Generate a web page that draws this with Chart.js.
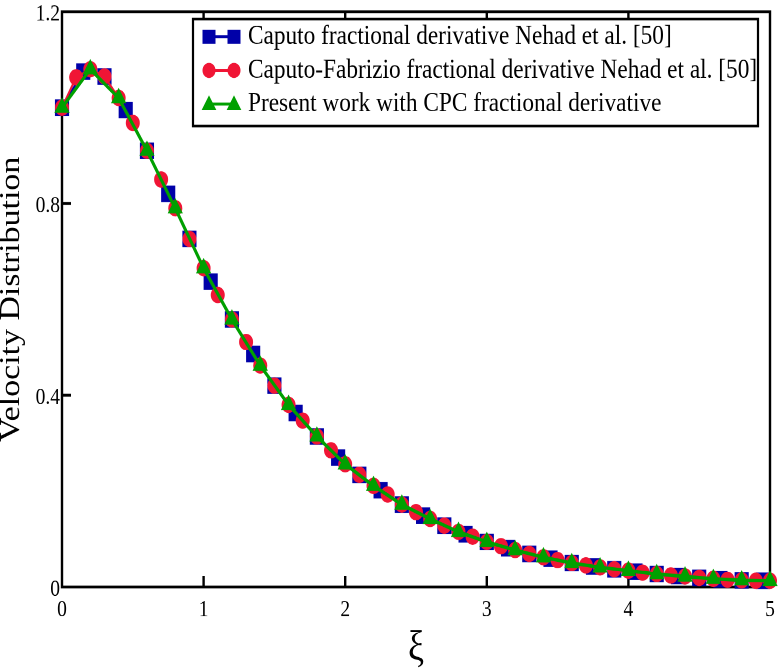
<!DOCTYPE html>
<html>
<head>
<meta charset="utf-8">
<title>Velocity Distribution</title>
<script src="https://cdn.jsdelivr.net/npm/chart.js@4.4.1/dist/chart.umd.min.js"></script>
<style>
  html, body { margin: 0; padding: 0; background: #fff; overflow: hidden; }
  #wrap { width: 780px; height: 670px; }
  /* the original figure is stretched a little vertically */
  #chart { transform-origin: 0 0; transform: scaleY(1.1693); }
</style>
</head>
<body>
<div id="wrap"><canvas id="chart" width="780" height="573"></canvas></div>
<script>
// Caputo (squares)
const xCaputo = [0, 0.15, 0.3, 0.45, 0.6, 0.75, 0.9, 1.05, 1.2, 1.35, 1.5, 1.65, 1.8, 1.95, 2.1, 2.25, 2.4,
    2.55, 2.7, 2.85, 3.0, 3.15, 3.3, 3.45, 3.6, 3.75, 3.9, 4.05, 4.2, 4.35, 4.5, 4.65, 4.8, 4.95];
const yCaputo = [1.000, 1.075, 1.065, 0.995, 0.910, 0.820, 0.726, 0.637, 0.558, 0.486, 0.420, 0.363, 0.314, 0.270,
    0.234, 0.202, 0.172, 0.149, 0.128, 0.110, 0.094, 0.081, 0.069, 0.059, 0.050, 0.043, 0.037, 0.032, 0.027,
    0.023, 0.019, 0.016, 0.014, 0.013];

// Caputo-Fabrizio (circles)
const xFabrizio = [0, 0.1, 0.2, 0.3, 0.4, 0.5, 0.6, 0.7, 0.8, 0.9, 1.0, 1.1, 1.2, 1.3, 1.4, 1.5, 1.6, 1.7, 1.8,
    1.9, 2.0, 2.1, 2.2, 2.3, 2.4, 2.5, 2.6, 2.7, 2.8, 2.9, 3.0, 3.1, 3.2, 3.3, 3.4, 3.5, 3.6, 3.7, 3.8, 3.9,
    4.0, 4.1, 4.2, 4.3, 4.4, 4.5, 4.6, 4.7, 4.8, 4.9, 5.0];
const yFabrizio = [1.000, 1.063, 1.080, 1.065, 1.020, 0.968, 0.910, 0.850, 0.790, 0.726, 0.665, 0.609, 0.558,
    0.511, 0.462, 0.420, 0.380, 0.347, 0.314, 0.285, 0.256, 0.234, 0.211, 0.193, 0.172, 0.156, 0.142, 0.128,
    0.115, 0.105, 0.094, 0.085, 0.077, 0.069, 0.062, 0.056, 0.050, 0.045, 0.041, 0.037, 0.034, 0.030, 0.027,
    0.024, 0.022, 0.019, 0.017, 0.015, 0.014, 0.013, 0.013];

// Present work, CPC (triangles)
const xPresent = [0, 0.2, 0.4, 0.6, 0.8, 1.0, 1.2, 1.4, 1.6, 1.8, 2.0, 2.2, 2.4, 2.6, 2.8, 3.0, 3.2, 3.4, 3.6,
    3.8, 4.0, 4.2, 4.4, 4.6, 4.8, 5.0];
const yPresent = [1.000, 1.080, 1.020, 0.910, 0.790, 0.665, 0.558, 0.462, 0.380, 0.314, 0.256, 0.211, 0.172,
    0.142, 0.115, 0.094, 0.077, 0.062, 0.050, 0.041, 0.034, 0.027, 0.022, 0.017, 0.014, 0.013];

const seriesNames = [
    'Caputo fractional derivative Nehad et al. [50]',
    'Caputo-Fabrizio fractional derivative Nehad et al. [50]',
    'Present work with CPC fractional derivative'
];
const seriesColors = ['#0000a8', '#f01535', '#00a000'];
const seriesShapes = ['rect', 'circle', 'triangle'];

const xTickValues = [0, 1, 2, 3, 4, 5];
const yTickValues = [0, 0.4, 0.8, 1.2];
const yTickLabels = ['0', '0.4', '0.8', '1.2'];

const SERIF = '"Liberation Serif", "Times New Roman", serif';

const toPoints = (xs, ys) => xs.map((x, i) => ({ x: x, y: ys[i] }));

// little helper to draw a marker shape (used for the legend)
const drawMarker = (ctx, shape, x, y, color) => {
    ctx.fillStyle = color;
    ctx.beginPath();
    if (shape === 'rect') {
        ctx.rect(x - 6.5, y - 6, 13, 12);
    } else if (shape === 'circle') {
        ctx.arc(x, y, 6.5, 0, Math.PI * 2);
    } else {
        ctx.moveTo(x, y - 7.5);
        ctx.lineTo(x + 7.3, y + 5);
        ctx.lineTo(x - 7.3, y + 5);
        ctx.closePath();
    }
    ctx.fill();
};

// box around the plot, inward ticks and the y tick labels
const framePlugin = {
    id: 'frame',
    beforeDatasetsDraw(chart) {
        const { ctx, chartArea: a, scales } = chart;
        ctx.save();
        ctx.strokeStyle = '#000';
        ctx.lineWidth = 2.4;
        ctx.strokeRect(a.left, a.top, a.right - a.left, a.bottom - a.top);

        ctx.beginPath();
        xTickValues.forEach(v => {
            if (v <= 0 || v >= 5) return;
            const px = scales.x.getPixelForValue(v);
            ctx.moveTo(px, a.bottom);
            ctx.lineTo(px, a.bottom - 9.5);
            ctx.moveTo(px, a.top);
            ctx.lineTo(px, a.top + 9.5);
        });
        yTickValues.forEach(v => {
            if (v <= 0 || v >= 1.2) return;
            const py = scales.y.getPixelForValue(v);
            ctx.moveTo(a.left, py);
            ctx.lineTo(a.left + 9, py);
        });
        ctx.stroke();

        ctx.fillStyle = '#000';
        ctx.font = '19.5px ' + SERIF;
        ctx.textAlign = 'right';
        ctx.textBaseline = 'middle';
        yTickValues.forEach((v, i) => {
            const py = scales.y.getPixelForValue(v);
            ctx.fillText(yTickLabels[i], a.left - 2, Math.max(py + 2.5, 8.5));
        });
        ctx.restore();
    }
};

// legend box in the top right
const legendPlugin = {
    id: 'boxLegend',
    afterDraw(chart) {
        const ctx = chart.ctx;
        const box = { left: 193, top: 16.3, right: 758, bottom: 107.8 };
        const rows = [31.4, 60.2, 89.0];
        ctx.save();
        ctx.fillStyle = '#fff';
        ctx.fillRect(box.left, box.top, box.right - box.left, box.bottom - box.top);
        ctx.strokeStyle = '#000';
        ctx.lineWidth = 2.2;
        ctx.strokeRect(box.left, box.top, box.right - box.left, box.bottom - box.top);

        seriesNames.forEach((name, i) => {
            const y = rows[i];
            ctx.strokeStyle = seriesColors[i];
            ctx.lineWidth = 2.5;
            ctx.beginPath();
            ctx.moveTo(209, y);
            ctx.lineTo(234, y);
            ctx.stroke();
            drawMarker(ctx, seriesShapes[i], 209, y, seriesColors[i]);
            drawMarker(ctx, seriesShapes[i], 234, y, seriesColors[i]);

            ctx.fillStyle = '#000';
            ctx.font = '23.3px ' + SERIF;
            ctx.textAlign = 'left';
            ctx.textBaseline = 'middle';
            ctx.fillText(name, 248, y);
        });
        ctx.restore();
    }
};

const makeDataset = (i, points, radius, order) => ({
    label: seriesNames[i],
    data: points,
    showLine: true,
    borderColor: seriesColors[i],
    backgroundColor: seriesColors[i],
    borderWidth: i === 2 ? 3 : 2,
    pointStyle: seriesShapes[i],
    pointRadius: radius,
    pointBorderWidth: 0,
    pointBackgroundColor: seriesColors[i],
    tension: 0,
    clip: false,
    order: order
});

const ctx = document.getElementById('chart').getContext('2d');

new Chart(ctx, {
    type: 'scatter',
    data: {
        datasets: [
            makeDataset(0, toPoints(xCaputo, yCaputo), 10, 3),
            makeDataset(1, toPoints(xFabrizio, yFabrizio), 7, 2),
            makeDataset(2, toPoints(xPresent, yPresent), 8.8, 1)
        ]
    },
    options: {
        responsive: false,
        devicePixelRatio: 2,
        animation: false,
        events: [],
        layout: { padding: { top: 2.6, right: 8, left: 0, bottom: 0 } },
        plugins: {
            legend: { display: false },
            tooltip: { enabled: false }
        },
        scales: {
            x: {
                type: 'linear',
                min: 0,
                max: 5,
                afterBuildTicks: s => { s.ticks = xTickValues.map(v => ({ value: v })); },
                ticks: {
                    color: '#000',
                    font: { family: SERIF, size: 19.5 },
                    padding: 8,
                    maxRotation: 0
                },
                grid: { display: false, drawTicks: false },
                border: { display: false },
                title: {
                    display: true,
                    text: 'ξ',
                    color: '#000',
                    font: { family: SERIF, size: 36, lineHeight: 1 },
                    padding: 0
                },
                afterFit: s => {
                    s.height = 71;
                    s.paddingLeft = 0;
                    s.paddingRight = 0;
                }
            },
            y: {
                type: 'linear',
                min: 0,
                max: 1.2,
                afterBuildTicks: s => { s.ticks = yTickValues.map(v => ({ value: v })); },
                ticks: { display: false },
                grid: { display: false, drawTicks: false },
                border: { display: false },
                title: {
                    display: true,
                    text: 'Velocity Distribution',
                    color: '#000',
                    font: { family: SERIF, size: 29, lineHeight: 0.5 },
                    padding: { top: 4, bottom: 0 }
                },
                afterFit: s => {
                    s.width = 62;
                    s.paddingTop = 0;
                    s.paddingBottom = 0;
                }
            }
        }
    },
    plugins: [framePlugin, legendPlugin]
});
</script>
</body>
</html>
